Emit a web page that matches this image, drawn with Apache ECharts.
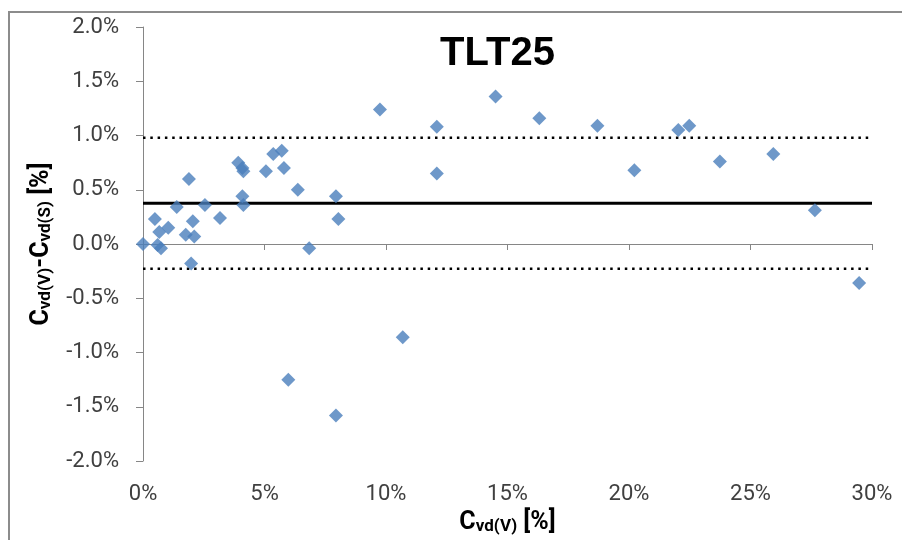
<!DOCTYPE html>
<html>
<head>
<meta charset="utf-8">
<title>TLT25</title>
<script src="https://cdn.jsdelivr.net/npm/echarts@6/dist/echarts.min.js"></script>
<style>
  html, body { margin: 0; padding: 0; background: #fff; }
  #chart { width: 902px; height: 540px; }
</style>
</head>
<body>
<div id="chart"></div>
<script>
// C_vd(V) in percent
const cvdV = [
  0.00, 0.49, 0.67, 0.60, 0.74, 1.04, 1.39, 1.89, 1.76, 2.11,
  2.05, 1.98, 2.55, 3.17, 3.92, 4.09, 4.13, 4.09, 4.13, 5.06,
  5.36, 5.71, 5.80, 6.37, 6.84, 5.98, 7.94, 8.04, 7.94, 9.75,
  10.69, 12.09, 12.09, 14.51, 16.31, 18.70, 20.22, 22.03, 22.48, 23.74,
  25.94, 27.65, 29.47
];
// C_vd(V) - C_vd(S) in percent
const cvdDiff = [
  0.00, 0.23, 0.11, -0.01, -0.04, 0.15, 0.34, 0.60, 0.085, 0.07,
  0.21, -0.18, 0.36, 0.24, 0.75, 0.70, 0.67, 0.44, 0.36, 0.67,
  0.83, 0.86, 0.70, 0.50, -0.04, -1.25, 0.44, 0.23, -1.58, 1.24,
  -0.86, 1.08, 0.65, 1.36, 1.16, 1.09, 0.68, 1.05, 1.09, 0.76,
  0.83, 0.31, -0.36
];
// Mean difference and limits of agreement
const meanDiff = 0.375;
const upperLimit = 0.979;
const lowerLimit = -0.229;
const lineSpan = [0, 30];

const xTicks = [0, 5, 10, 15, 20, 25, 30];
const yTicks = [-2.0, -1.5, -1.0, -0.5, 0.0, 0.5, 1.0, 1.5, 2.0];

const points = cvdV.map((x, i) => [x, cvdDiff[i]]);
const hLine = v => lineSpan.map(x => [x, v]);

const FONT = 'Roboto';
const axisGray = '#868686';
const labelColor = '#404040';

const titleRich = {
  b: { fontFamily: 'Roboto', fontWeight: 'bold', fontSize: 25, color: '#000', verticalAlign: 'bottom', lineHeight: 30 },
  s: { fontFamily: 'Roboto', fontWeight: 'bold', fontSize: 17, color: '#000', verticalAlign: 'bottom', lineHeight: 23 }
};

const chart = echarts.init(document.getElementById('chart'), null, { renderer: 'canvas' });

chart.setOption({
  backgroundColor: '#ffffff',
  animation: false,
  graphic: [
    {
      type: 'rect',
      shape: { x: 9, y: 12, width: 1000, height: 600 },
      style: { fill: 'none', stroke: '#8c8c8c', lineWidth: 2 },
      silent: true,
      z: 0
    },
    {
      type: 'text',
      x: 497.5,
      y: 53.5,
      style: {
        text: 'TLT25',
        fontFamily: 'Liberation Sans',
        fontWeight: 'bold',
        fontSize: 40,
        fill: '#000',
        align: 'center',
        verticalAlign: 'middle'
      },
      silent: true,
      z: 10
    }
  ],
  grid: { left: 143, right: 30, top: 27, bottom: 77 },
  xAxis: {
    type: 'value',
    min: xTicks[0],
    max: xTicks[xTicks.length - 1],
    interval: 5,
    splitLine: { show: false },
    axisLine: { lineStyle: { color: axisGray, width: 1 } },
    axisTick: { show: true, length: 6, lineStyle: { color: axisGray } },
    axisLabel: {
      margin: 22,
      fontFamily: FONT,
      fontSize: 22,
      color: labelColor,
      formatter: v => v.toFixed(0) + '%'
    },
    name: '{b|C}{s|vd(V)}{b| [%]}',
    nameLocation: 'middle',
    nameGap: 44,
    nameTextStyle: { rich: titleRich }
  },
  yAxis: {
    type: 'value',
    min: yTicks[0],
    max: yTicks[yTicks.length - 1],
    interval: 0.5,
    splitLine: { show: false },
    axisLine: { show: true, lineStyle: { color: axisGray, width: 1 } },
    axisTick: { show: true, length: 7, lineStyle: { color: axisGray } },
    axisLabel: {
      margin: 24,
      fontFamily: FONT,
      fontSize: 22,
      color: labelColor,
      formatter: v => v.toFixed(1) + '%'
    },
    name: '{b|C}{s|vd(V)}{b|-C}{s|vd(S)}{b| [%]}',
    nameLocation: 'middle',
    nameGap: 89,
    nameTextStyle: { rich: titleRich }
  },
  series: [
    {
      name: 'upper',
      type: 'line',
      data: hLine(upperLimit),
      symbol: 'none',
      silent: true,
      lineStyle: { color: '#000', width: 2.5, type: [2.5, 4.8] },
      z: 2
    },
    {
      name: 'lower',
      type: 'line',
      data: hLine(lowerLimit),
      symbol: 'none',
      silent: true,
      lineStyle: { color: '#000', width: 2.5, type: [2.5, 4.8] },
      z: 2
    },
    {
      name: 'mean',
      type: 'line',
      data: hLine(meanDiff),
      symbol: 'none',
      silent: true,
      lineStyle: { color: '#000', width: 3, type: 'solid' },
      z: 2
    },
    {
      name: 'TLT25',
      type: 'scatter',
      data: points,
      symbol: 'diamond',
      symbolSize: 14,
      itemStyle: { color: '#4a7ebb' },
      z: 3
    }
  ]
});
</script>
</body>
</html>
